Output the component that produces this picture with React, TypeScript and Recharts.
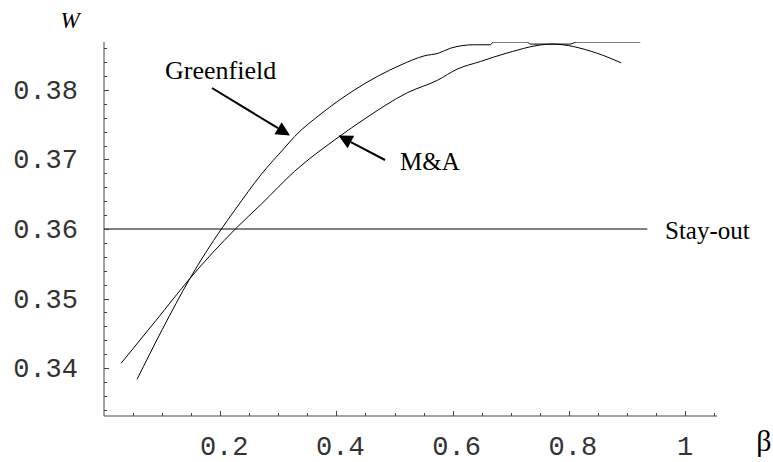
import React from "react";
import { LineChart, Line, XAxis, YAxis, ReferenceDot, Customized } from "recharts";

/// welfare W against beta
const betaGreenfield = [
  0.057, 0.1, 0.148, 0.202, 0.225, 0.271, 0.311, 0.328, 0.374, 0.431, 0.511,
  0.551, 0.576, 0.596, 0.636, 0.665, 0.67, 0.728, 0.734, 0.802, 0.814, 0.923,
];
const wGreenfield = [
  0.3384, 0.3455, 0.3529, 0.36, 0.3627, 0.3679, 0.3717, 0.3733, 0.3766, 0.38,
  0.3836, 0.3849, 0.3853, 0.386, 0.3865, 0.3865, 0.3869, 0.3869, 0.3866,
  0.3866, 0.3869, 0.3869,
];

const betaMA = [
  0.0296, 0.09, 0.148, 0.226, 0.271, 0.328, 0.405, 0.448, 0.522, 0.574, 0.608,
  0.648, 0.693, 0.771, 0.848, 0.89,
];
const wMA = [
  0.3407, 0.3469, 0.3529, 0.36, 0.3636, 0.3683, 0.3733, 0.3758, 0.3796, 0.3814,
  0.383, 0.3841, 0.3853, 0.3866, 0.3853, 0.3839,
];

const betaStayOut = [0, 0.935];
const wStayOut = [0.36, 0.36];

/// major ticks carry labels, minor ticks are bare marks
const xMajor = [0.2, 0.4, 0.6, 0.8, 1];
const xLabels = ["0.2", "0.4", "0.6", "0.8", "1"];
const xMinor = [
  0.05, 0.1, 0.15, 0.25, 0.3, 0.35, 0.45, 0.5, 0.55, 0.65, 0.7, 0.75, 0.85,
  0.9, 0.95, 1.05,
];

const yMajor = [0.34, 0.35, 0.36, 0.37, 0.38];
const yLabels = ["0.34", "0.35", "0.36", "0.37", "0.38"];
const yMinor = [
  0.334, 0.336, 0.338, 0.342, 0.344, 0.346, 0.348, 0.352, 0.354, 0.356, 0.358,
  0.362, 0.364, 0.366, 0.368, 0.372, 0.374, 0.376, 0.378, 0.382, 0.384, 0.386,
];

const toPoints = (xs: number[], ys: number[]) =>
  xs.map((b, i) => ({ b, w: ys[i] }));

const greenfieldData = toPoints(betaGreenfield, wGreenfield);
const maData = toPoints(betaMA, wMA);
const stayOutData = toPoints(betaStayOut, wStayOut);

const X_DOMAIN: [number, number] = [0, 1.055];
const Y_DOMAIN: [number, number] = [0.3331, 0.3869];

const AXIS = "#444";
const MONO = "'Liberation Mono', 'Courier New', monospace";
const SERIF = "'Liberation Serif', 'Times New Roman', serif";
const MAJOR_LEN = 5;
const MINOR_LEN = 3;
const THIN = 0.01;

const majorIndex = (list: number[], v: number) =>
  list.findIndex((m) => Math.abs(m - v) < 1e-6);

/// tick marks pointing into the plot, anchored by the chart scales
const xTickMark = (len: number) => (p: any) => {
  const x = Math.round(Number(p.cx)) + 0.5;
  const y = Number(p.cy);
  return (
    <line x1={x} y1={y} x2={x} y2={y - len} stroke={AXIS} strokeWidth={1} shapeRendering="crispEdges" />
  );
};
const yTickMark = (len: number) => (p: any) => {
  const x = Number(p.cx);
  const y = Math.round(Number(p.cy)) + 0.5;
  return (
    <line x1={x} y1={y} x2={x + len} y2={y} stroke={AXIS} strokeWidth={1} shapeRendering="crispEdges" />
  );
};

function XLabel(props: any) {
  const { x, y, payload } = props;
  const idx = majorIndex(xMajor, payload.value);
  if (idx < 0) return <g />;
  const label = xLabels[idx];
  return (
    <text
      x={label.length > 1 ? x + 4 : x}
      y={y + 39}
      textAnchor="middle"
      fontFamily={MONO}
      fontSize={27}
      fill="#333"
    >
      {label}
    </text>
  );
}

function YLabel(props: any) {
  const { x, y, payload } = props;
  const idx = majorIndex(yMajor, payload.value);
  if (idx < 0) return <g />;
  return (
    <text
      x={x - 26}
      y={y + 9}
      textAnchor="end"
      fontFamily={MONO}
      fontSize={27}
      fill="#333"
    >
      {yLabels[idx]}
    </text>
  );
}

/// arrow with a filled head at (x2, y2)
function Arrow({ x1, y1, x2, y2 }: { x1: number; y1: number; x2: number; y2: number }) {
  const dx = x2 - x1;
  const dy = y2 - y1;
  const len = Math.hypot(dx, dy);
  const ux = dx / len;
  const uy = dy / len;
  const head = 14;
  const half = 7;
  const bx = x2 - ux * head;
  const by = y2 - uy * head;
  const pts = [
    [x2, y2],
    [bx - uy * half, by + ux * half],
    [bx + uy * half, by - ux * half],
  ]
    .map((p) => p.join(","))
    .join(" ");
  return (
    <g>
      <line x1={x1} y1={y1} x2={bx} y2={by} stroke="#000" strokeWidth={2} />
      <polygon points={pts} fill="#000" />
    </g>
  );
}

function Annotations() {
  return (
    <g>
      <text x={70} y={28} textAnchor="middle" fontFamily={SERIF} fontStyle="italic" fontSize={23}>
        W
      </text>
      <text x={764} y={451} textAnchor="middle" fontFamily={SERIF} fontSize={30}>
        β
      </text>
      <text x={165} y={79} fontFamily={SERIF} fontSize={26}>
        Greenfield
      </text>
      <text x={400} y={170} fontFamily={SERIF} fontSize={25}>
        M&amp;A
      </text>
      <text x={665} y={239} fontFamily={SERIF} fontSize={25}>
        Stay-out
      </text>
      <Arrow x1={212} y1={88} x2={290} y2={135.5} />
      <Arrow x1={385} y1={160} x2={338.5} y2={135.5} />
    </g>
  );
}

export default function App() {
  return (
    <div style={{ position: "absolute", left: 0, top: 0, background: "#fff" }}>
      <LineChart
        width={773}
        height={462}
        margin={{ top: 42, right: 56, bottom: 46, left: 104 }}
      >
        <XAxis
          xAxisId="main"
          type="number"
          dataKey="b"
          domain={X_DOMAIN}
          allowDataOverflow
          ticks={xMajor}
          interval={0}
          mirror
          height={THIN}
          tickSize={0}
          tickMargin={0}
          tickLine={false}
          tick={<XLabel />}
          axisLine={{ stroke: AXIS, strokeWidth: 1 }}
        />
        <YAxis
          yAxisId="main"
          type="number"
          dataKey="w"
          domain={Y_DOMAIN}
          allowDataOverflow
          ticks={yMajor}
          interval={0}
          mirror
          width={THIN}
          tickSize={0}
          tickMargin={0}
          tickLine={false}
          tick={<YLabel />}
          axisLine={{ stroke: AXIS, strokeWidth: 1 }}
        />
        {xMajor.map((t) => (
          <ReferenceDot key={`xM${t}`} xAxisId="main" yAxisId="main" x={t} y={Y_DOMAIN[0]} ifOverflow="visible" shape={xTickMark(MAJOR_LEN)} />
        ))}
        {xMinor.map((t) => (
          <ReferenceDot key={`xm${t}`} xAxisId="main" yAxisId="main" x={t} y={Y_DOMAIN[0]} ifOverflow="visible" shape={xTickMark(MINOR_LEN)} />
        ))}
        {yMajor.map((t) => (
          <ReferenceDot key={`yM${t}`} xAxisId="main" yAxisId="main" x={X_DOMAIN[0]} y={t} ifOverflow="visible" shape={yTickMark(MAJOR_LEN)} />
        ))}
        {yMinor.map((t) => (
          <ReferenceDot key={`ym${t}`} xAxisId="main" yAxisId="main" x={X_DOMAIN[0]} y={t} ifOverflow="visible" shape={yTickMark(MINOR_LEN)} />
        ))}
        <Line
          xAxisId="main"
          yAxisId="main"
          data={stayOutData}
          dataKey="w"
          type="linear"
          stroke="#808080"
          strokeWidth={2}
          dot={false}
          isAnimationActive={false}
        />
        <Line
          xAxisId="main"
          yAxisId="main"
          data={greenfieldData}
          dataKey="w"
          type="monotone"
          stroke="#000"
          strokeWidth={1}
          dot={false}
          isAnimationActive={false}
        />
        <Line
          xAxisId="main"
          yAxisId="main"
          data={maData}
          dataKey="w"
          type="monotone"
          stroke="#000"
          strokeWidth={1}
          dot={false}
          isAnimationActive={false}
        />
        <Customized component={Annotations} />
      </LineChart>
    </div>
  );
}
